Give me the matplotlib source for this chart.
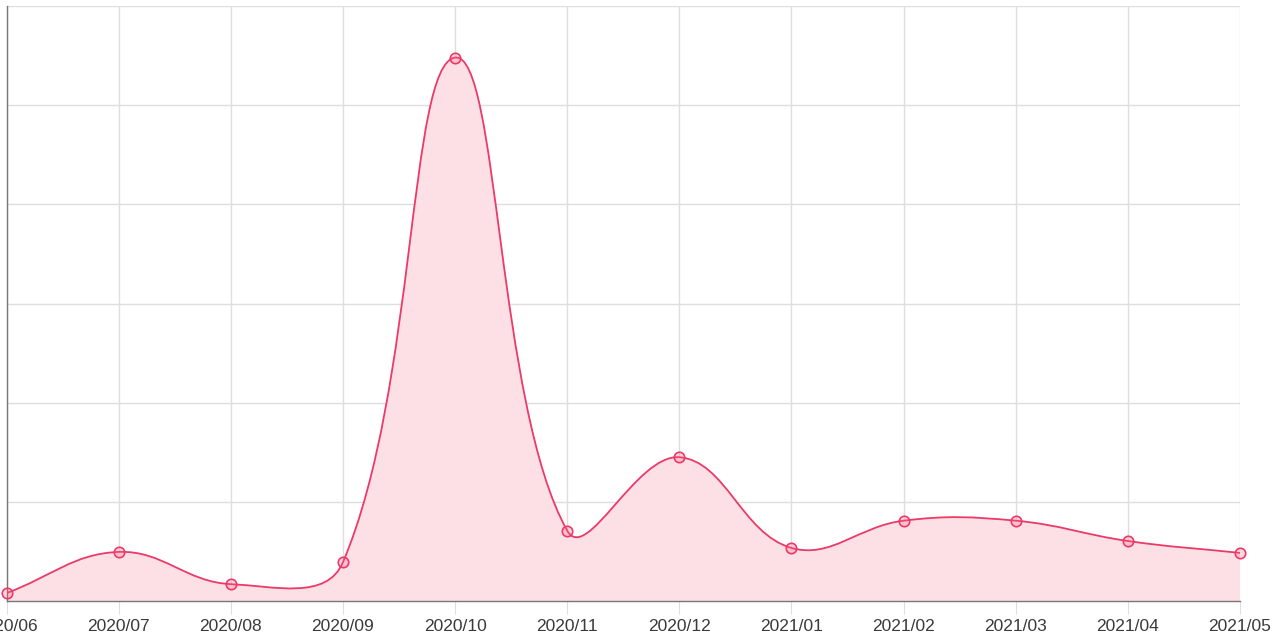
import matplotlib
matplotlib.use("Agg")
import matplotlib.pyplot as plt
import numpy as np
from matplotlib.path import Path
from matplotlib.patches import PathPatch

months = ["2020/06", "2020/07", "2020/08", "2020/09", "2020/10", "2020/11",
          "2020/12", "2021/01", "2021/02", "2021/03", "2021/04", "2021/05"]
values = [0.8, 4.95, 1.7, 3.9, 54.8, 7.1, 14.5, 5.35, 8.1, 8.1, 6.05, 4.85]

line_color = "#ec3a68"
fill_color = "#fde0e6"
grid_color = "#dedede"

fig = plt.figure(figsize=(12.8, 6.37), dpi=100)
W, H = 1280, 637
ax = fig.add_axes([6.5 / W, (H - 601) / H, (1240 - 6.5) / W, (601 - 6) / H])
n = len(months)
xs = np.arange(n)
ax.set_xlim(0, n - 1)
ax.set_ylim(0, 60)

# Chart.js-style spline (tension 0.4) computed in pixel space
tension = 0.4
pts = ax.transData.transform(np.column_stack([xs, values]))
verts = [tuple(pts[0])]
codes = [Path.MOVETO]
cps = []
for i in range(n):
    prev = pts[i - 1] if i > 0 else pts[i]
    cur = pts[i]
    nxt = pts[i + 1] if i < n - 1 else pts[i]
    d01 = np.hypot(*(cur - prev))
    d12 = np.hypot(*(nxt - cur))
    tot = d01 + d12
    s01 = d01 / tot if tot else 0
    s12 = d12 / tot if tot else 0
    fa = tension * s01
    fb = tension * s12
    cp_prev = cur - fa * (nxt - prev)
    cp_next = cur + fb * (nxt - prev)
    cps.append((cp_prev, cp_next))
for i in range(1, n):
    verts += [tuple(cps[i - 1][1]), tuple(cps[i][0]), tuple(pts[i])]
    codes += [Path.CURVE4] * 3
inv = ax.transData.inverted()
dverts = inv.transform(np.array(verts))
curve = Path(dverts, codes)

fill_verts = list(map(tuple, dverts)) + [(xs[-1], 0), (xs[0], 0), (xs[0], values[0])]
fill_codes = codes + [Path.LINETO, Path.LINETO, Path.CLOSEPOLY]
ax.add_patch(PathPatch(Path(fill_verts, fill_codes), facecolor=fill_color,
                       edgecolor="none", zorder=1))
ax.add_patch(PathPatch(curve, facecolor="none", edgecolor=line_color,
                       linewidth=1.3, zorder=3))
ax.plot(xs, values, linestyle="none", marker="o", markersize=7.5,
        markerfacecolor=(1, 0.39, 0.52, 0.25), markeredgecolor=line_color,
        markeredgewidth=1.2, zorder=4, clip_on=False)

ax.set_xticks(xs)
ax.set_xticklabels(months, fontsize=12.5, color="#3a3a3a", family="Liberation Sans")
ax.set_yticks(np.arange(0, 61, 10))
ax.set_yticklabels([])
ax.tick_params(axis="y", length=0)
ax.tick_params(axis="x", length=9, color=grid_color, pad=4)
ax.grid(True, color=grid_color, linewidth=1, zorder=0)
ax.set_axisbelow(True)
for s in ["top", "right"]:
    ax.spines[s].set_visible(False)
ax.spines["left"].set_color("#777777")
ax.spines["bottom"].set_color("#777777")
ax.spines["left"].set_linewidth(1)
ax.spines["bottom"].set_linewidth(1)

fig.savefig("out.png", dpi=100)
